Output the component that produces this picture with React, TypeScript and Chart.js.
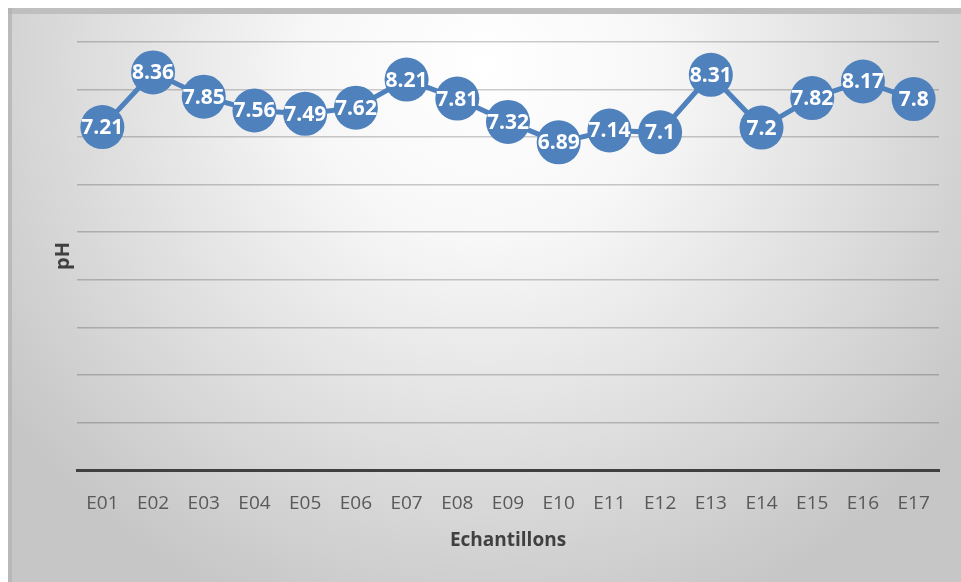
import React, { useEffect, useRef } from "react";
import { Chart, registerables } from "chart.js";

Chart.register(...registerables);

const categories = ["E01", "E02", "E03", "E04", "E05", "E06", "E07", "E08", "E09", "E10", "E11", "E12", "E13", "E14", "E15", "E16", "E17"];
const phValues = [7.21, 8.36, 7.85, 7.56, 7.49, 7.62, 8.21, 7.81, 7.32, 6.89, 7.14, 7.1, 8.31, 7.2, 7.82, 8.17, 7.8];
const yMin = 0;
const yMax = 9;
const yStep = 1;
const xTitle = "Echantillons";
const yTitle = "pH";

const FONT = "'Open Sans', 'DejaVu Sans', sans-serif";
const BLUE = "#4f81bd";

const backgroundPlugin = {
  id: "bgPlugin",
  beforeDraw(chart: any) {
    const { ctx, width, height } = chart;
    ctx.save();
    const g = ctx.createRadialGradient(width * 0.5, height * 0.1, 0, width * 0.5, height * 0.1, width * 0.62);
    g.addColorStop(0, "#ffffff");
    g.addColorStop(0.3, "#f7f7f7");
    g.addColorStop(1, "#c6c6c6");
    ctx.fillStyle = g;
    ctx.fillRect(0, 0, width, height);
    ctx.fillStyle = "#bfbfbf";
    ctx.fillRect(0, 0, width, 6);
    ctx.fillStyle = "rgba(180,180,180,0.8)";
    ctx.fillRect(0, 0, 4, height);
    ctx.restore();
  },
};

const labelPlugin = {
  id: "labelPlugin",
  afterDatasetsDraw(chart: any) {
    const { ctx } = chart;
    const meta = chart.getDatasetMeta(0);
    ctx.save();
    ctx.fillStyle = "#ffffff";
    ctx.font = `bold 21px ${FONT}`;
    ctx.textAlign = "center";
    ctx.textBaseline = "middle";
    meta.data.forEach((pt: any, i: number) => {
      ctx.fillText(String(phValues[i]), pt.x, pt.y + 1);
    });
    ctx.restore();
  },
};

export default function App() {
  const canvasRef = useRef<HTMLCanvasElement | null>(null);

  useEffect(() => {
    if (!canvasRef.current) return;
    const chart = new Chart(canvasRef.current, {
      type: "line",
      data: {
        labels: categories,
        datasets: [
          {
            data: phValues,
            borderColor: BLUE,
            backgroundColor: BLUE,
            borderWidth: 5,
            pointRadius: 22,
            pointBorderWidth: 0,
            pointBackgroundColor: BLUE,
            pointBorderColor: BLUE,
            tension: 0,
            clip: false as any,
          },
        ],
      },
      options: {
        animation: false,
        responsive: false,
        maintainAspectRatio: false,
        layout: { padding: { top: 34, right: 20, bottom: 0, left: 0 } },
        plugins: {
          legend: { display: false },
          tooltip: { enabled: false },
        },
        scales: {
          x: {
            offset: true,
            grid: { display: false, drawTicks: false },
            border: { display: true, color: "#404040", width: 3 },
            ticks: {
              color: "#595959",
              font: { family: FONT, size: 19 },
              padding: 22,
              maxRotation: 0,
              autoSkip: false,
            },
            title: {
              display: true,
              text: xTitle,
              color: "#404040",
              font: { family: FONT, size: 19, weight: "bold" },
              padding: { top: 0, bottom: 30 },
            },
            afterFit: (scale: any) => {
              scale.height = 112;
            },
          },
          y: {
            min: yMin,
            max: yMax,
            grid: {
              drawTicks: false,
              lineWidth: 1.5,
              color: (c: any) => (c.tick && c.tick.value === 0 ? "rgba(0,0,0,0)" : "rgba(0,0,0,0.2)"),
            },
            border: { display: false },
            ticks: { display: false, stepSize: yStep },
            title: {
              display: true,
              text: yTitle,
              color: "#404040",
              font: { family: FONT, size: 20, weight: "bold" },
              padding: { top: 43, bottom: 0 },
            },
            afterFit: (scale: any) => {
              scale.width = 69;
            },
          },
        },
      },
      plugins: [backgroundPlugin, labelPlugin],
    });
    return () => chart.destroy();
  }, []);

  return (
    <div style={{ position: "fixed", left: 8, top: 8, width: 953, height: 574 }}>
      <canvas ref={canvasRef} width={953} height={574} style={{ display: "block", width: 953, height: 574 }} />
    </div>
  );
}
